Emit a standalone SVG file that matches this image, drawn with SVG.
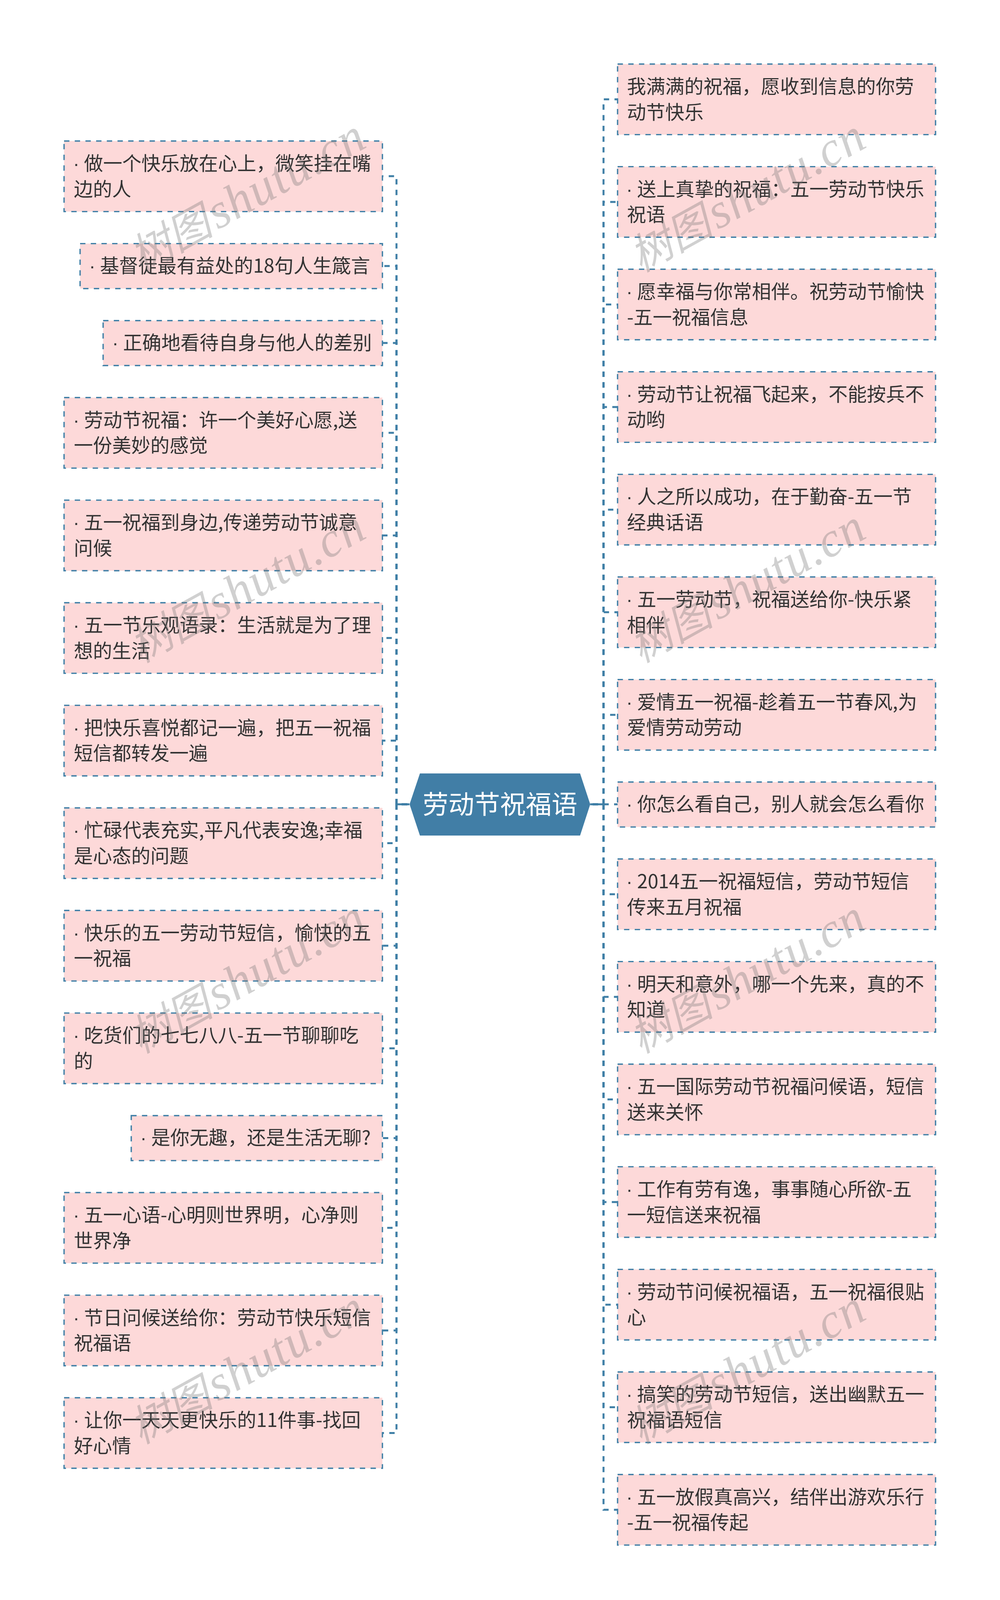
<svg xmlns="http://www.w3.org/2000/svg" width="2560" height="4119" viewBox="0 0 2560 4119">
<style>
.c{fill:none;stroke:#3f7fa6;stroke-width:5;stroke-dasharray:13.68 13.68}
.t{fill:none;stroke:#3f7fa6;stroke-width:5}
.b{fill:#fdd9d9;stroke:#3f7fa6;stroke-width:3.4;stroke-dasharray:13.68 13.68}
.x{font-family:"Noto Sans CJK SC","Liberation Sans",sans-serif;font-size:49px;fill:#333}
.d{font-family:"Liberation Sans",sans-serif}
.m{font-family:"Noto Sans CJK SC","Liberation Sans",sans-serif;font-size:66px;fill:#fff;text-anchor:middle}
.w{font-family:"Liberation Serif","Noto Sans CJK SC",serif;font-style:italic;font-size:126px;letter-spacing:2.5px;word-spacing:-24px;fill:#777;fill-opacity:.345}
.wc{font-size:108px;letter-spacing:0}
</style>
<rect width="2560" height="4119" fill="#fff"/>
<g id="connectors">
<path class="t" d="M1048 2059H1015M1511 2059H1545"/>
<path class="c" d="M1042.4 2059H1015V451H979"/>
<path class="c" d="M1042.4 2059H1015V681H979"/>
<path class="c" d="M1042.4 2059H1015V878H979"/>
<path class="c" d="M1042.4 2059H1015V1108H979"/>
<path class="c" d="M1042.4 2059H1015V1370.7H979"/>
<path class="c" d="M1042.4 2059H1015V1633.3H979"/>
<path class="c" d="M1042.4 2059H1015V1895.9H979"/>
<path class="c" d="M1042.4 2059H1015V2158.5H979"/>
<path class="c" d="M1042.4 2059H1015V2421.1H979"/>
<path class="c" d="M1042.4 2059H1015V2683.7H979"/>
<path class="c" d="M1042.4 2059H1015V2913.5H979"/>
<path class="c" d="M1042.4 2059H1015V3143.3H979"/>
<path class="c" d="M1042.4 2059H1015V3405.9H979"/>
<path class="c" d="M1042.4 2059H1015V3668.5H979"/>
<path class="c" d="M1490 2059H1545V254.3H1581"/>
<path class="c" d="M1490 2059H1545V516.9H1581"/>
<path class="c" d="M1490 2059H1545V779.5H1581"/>
<path class="c" d="M1490 2059H1545V1042.1H1581"/>
<path class="c" d="M1490 2059H1545V1304.7H1581"/>
<path class="c" d="M1490 2059H1545V1567.3H1581"/>
<path class="c" d="M1490 2059H1545V1829.9H1581"/>
<path class="c" d="M1490 2059H1581"/>
<path class="c" d="M1490 2059H1545V2289.3H1581"/>
<path class="c" d="M1490 2059H1545V2551.9H1581"/>
<path class="c" d="M1490 2059H1545V2814.6H1581"/>
<path class="c" d="M1490 2059H1545V3077.2H1581"/>
<path class="c" d="M1490 2059H1545V3339.9H1581"/>
<path class="c" d="M1490 2059H1545V3602.5H1581"/>
<path class="c" d="M1490 2059H1545V3865.1H1581"/>
</g>
<g id="root"><polygon points="1048.5,2059 1075,1980 1485,1980 1511,2059 1485,2139 1075,2139" fill="#417ea6"/><text class="m" x="1280" y="2083">劳动节祝福语</text></g>
<g id="L1"><rect class="b" x="164" y="361" width="815" height="180.6"/><text class="x" y="436"><tspan class="d" x="187">·</tspan><tspan x="215">做一个快乐放在心上，微笑挂在嘴</tspan><tspan x="189" dy="65.6">边的人</tspan></text></g>
<g id="L2"><rect class="b" x="205" y="623.6" width="774" height="115.1"/><text class="x" y="698"><tspan class="d" x="228">·</tspan><tspan x="256">基督徒最有益处的18句人生箴言</tspan></text></g>
<g id="L3"><rect class="b" x="264" y="820.7" width="715" height="115.1"/><text class="x" y="895"><tspan class="d" x="287">·</tspan><tspan x="315">正确地看待自身与他人的差别</tspan></text></g>
<g id="L4"><rect class="b" x="164" y="1017.8" width="815" height="180.6"/><text class="x" y="1092.8"><tspan class="d" x="187">·</tspan><tspan x="215">劳动节祝福：许一个美好心愿,送</tspan><tspan x="189" dy="65.6">一份美妙的感觉</tspan></text></g>
<g id="L5"><rect class="b" x="164" y="1280.4" width="815" height="180.6"/><text class="x" y="1355.4"><tspan class="d" x="187">·</tspan><tspan x="215">五一祝福到身边,传递劳动节诚意</tspan><tspan x="189" dy="65.6">问候</tspan></text></g>
<g id="L6"><rect class="b" x="164" y="1543" width="815" height="180.6"/><text class="x" y="1618"><tspan class="d" x="187">·</tspan><tspan x="215">五一节乐观语录：生活就是为了理</tspan><tspan x="189" dy="65.6">想的生活</tspan></text></g>
<g id="L7"><rect class="b" x="164" y="1805.6" width="815" height="180.6"/><text class="x" y="1880.6"><tspan class="d" x="187">·</tspan><tspan x="215">把快乐喜悦都记一遍，把五一祝福</tspan><tspan x="189" dy="65.6">短信都转发一遍</tspan></text></g>
<g id="L8"><rect class="b" x="164" y="2068.2" width="815" height="180.6"/><text class="x" y="2143.2"><tspan class="d" x="187">·</tspan><tspan x="215">忙碌代表充实,平凡代表安逸;幸福</tspan><tspan x="189" dy="65.6">是心态的问题</tspan></text></g>
<g id="L9"><rect class="b" x="164" y="2330.8" width="815" height="180.6"/><text class="x" y="2405.8"><tspan class="d" x="187">·</tspan><tspan x="215">快乐的五一劳动节短信，愉快的五</tspan><tspan x="189" dy="65.6">一祝福</tspan></text></g>
<g id="L10"><rect class="b" x="164" y="2593.4" width="815" height="180.6"/><text class="x" y="2668.4"><tspan class="d" x="187">·</tspan><tspan x="215">吃货们的七七八八-五一节聊聊吃</tspan><tspan x="189" dy="65.6">的</tspan></text></g>
<g id="L11"><rect class="b" x="336" y="2856" width="643" height="115.1"/><text class="x" y="2930.4"><tspan class="d" x="359">·</tspan><tspan x="387">是你无趣，还是生活无聊?</tspan></text></g>
<g id="L12"><rect class="b" x="164" y="3053" width="815" height="180.6"/><text class="x" y="3128"><tspan class="d" x="187">·</tspan><tspan x="215">五一心语-心明则世界明，心净则</tspan><tspan x="189" dy="65.6">世界净</tspan></text></g>
<g id="L13"><rect class="b" x="164" y="3315.6" width="815" height="180.6"/><text class="x" y="3390.6"><tspan class="d" x="187">·</tspan><tspan x="215">节日问候送给你：劳动节快乐短信</tspan><tspan x="189" dy="65.6">祝福语</tspan></text></g>
<g id="L14"><rect class="b" x="164" y="3578.2" width="815" height="180.6"/><text class="x" y="3653.2"><tspan class="d" x="187">·</tspan><tspan x="215">让你一天天更快乐的11件事-找回</tspan><tspan x="189" dy="65.6">好心情</tspan></text></g>
<g id="R1"><rect class="b" x="1581" y="164" width="814" height="180.6"/><text class="x" y="239"><tspan x="1605">我满满的祝福，愿收到信息的你劳</tspan><tspan x="1605" dy="65.6">动节快乐</tspan></text></g>
<g id="R2"><rect class="b" x="1581" y="426.6" width="814" height="180.6"/><text class="x" y="501.6"><tspan class="d" x="1603">·</tspan><tspan x="1631">送上真挚的祝福：五一劳动节快乐</tspan><tspan x="1605" dy="65.6">祝语</tspan></text></g>
<g id="R3"><rect class="b" x="1581" y="689.2" width="814" height="180.6"/><text class="x" y="764.2"><tspan class="d" x="1603">·</tspan><tspan x="1631">愿幸福与你常相伴。祝劳动节愉快</tspan><tspan x="1605" dy="65.6">-五一祝福信息</tspan></text></g>
<g id="R4"><rect class="b" x="1581" y="951.8" width="814" height="180.6"/><text class="x" y="1026.8"><tspan class="d" x="1603">·</tspan><tspan x="1631">劳动节让祝福飞起来，不能按兵不</tspan><tspan x="1605" dy="65.6">动哟</tspan></text></g>
<g id="R5"><rect class="b" x="1581" y="1214.4" width="814" height="180.6"/><text class="x" y="1289.4"><tspan class="d" x="1603">·</tspan><tspan x="1631">人之所以成功，在于勤奋-五一节</tspan><tspan x="1605" dy="65.6">经典话语</tspan></text></g>
<g id="R6"><rect class="b" x="1581" y="1477" width="814" height="180.6"/><text class="x" y="1552"><tspan class="d" x="1603">·</tspan><tspan x="1631">五一劳动节，祝福送给你-快乐紧</tspan><tspan x="1605" dy="65.6">相伴</tspan></text></g>
<g id="R7"><rect class="b" x="1581" y="1739.6" width="814" height="180.6"/><text class="x" y="1814.6"><tspan class="d" x="1603">·</tspan><tspan x="1631">爱情五一祝福-趁着五一节春风,为</tspan><tspan x="1605" dy="65.6">爱情劳动劳动</tspan></text></g>
<g id="R8"><rect class="b" x="1581" y="2002" width="814" height="115.1"/><text class="x" y="2076"><tspan class="d" x="1603">·</tspan><tspan x="1631">你怎么看自己，别人就会怎么看你</tspan></text></g>
<g id="R9"><rect class="b" x="1581" y="2199" width="814" height="180.6"/><text class="x" y="2274"><tspan class="d" x="1603">·</tspan><tspan x="1631">2014五一祝福短信，劳动节短信</tspan><tspan x="1605" dy="65.6">传来五月祝福</tspan></text></g>
<g id="R10"><rect class="b" x="1581" y="2461.6" width="814" height="180.6"/><text class="x" y="2536.6"><tspan class="d" x="1603">·</tspan><tspan x="1631">明天和意外，哪一个先来，真的不</tspan><tspan x="1605" dy="65.6">知道</tspan></text></g>
<g id="R11"><rect class="b" x="1581" y="2724.3" width="814" height="180.6"/><text class="x" y="2799.3"><tspan class="d" x="1603">·</tspan><tspan x="1631">五一国际劳动节祝福问候语，短信</tspan><tspan x="1605" dy="65.6">送来关怀</tspan></text></g>
<g id="R12"><rect class="b" x="1581" y="2986.9" width="814" height="180.6"/><text class="x" y="3061.9"><tspan class="d" x="1603">·</tspan><tspan x="1631">工作有劳有逸，事事随心所欲-五</tspan><tspan x="1605" dy="65.6">一短信送来祝福</tspan></text></g>
<g id="R13"><rect class="b" x="1581" y="3249.6" width="814" height="180.6"/><text class="x" y="3324.6"><tspan class="d" x="1603">·</tspan><tspan x="1631">劳动节问候祝福语，五一祝福很贴</tspan><tspan x="1605" dy="65.6">心</tspan></text></g>
<g id="R14"><rect class="b" x="1581" y="3512.2" width="814" height="180.6"/><text class="x" y="3587.2"><tspan class="d" x="1603">·</tspan><tspan x="1631">搞笑的劳动节短信，送出幽默五一</tspan><tspan x="1605" dy="65.6">祝福语短信</tspan></text></g>
<g id="R15"><rect class="b" x="1581" y="3774.8" width="814" height="180.6"/><text class="x" y="3849.8"><tspan class="d" x="1603">·</tspan><tspan x="1631">五一放假真高兴，结伴出游欢乐行</tspan><tspan x="1605" dy="65.6">-五一祝福传起</tspan></text></g>
<g id="watermark">
<text class="w" transform="translate(360 698) rotate(-29)"><tspan class="wc">树图</tspan> shutu.cn</text>
<text class="w" transform="translate(1640 698) rotate(-29)"><tspan class="wc">树图</tspan> shutu.cn</text>
<text class="w" transform="translate(360 1698) rotate(-29)"><tspan class="wc">树图</tspan> shutu.cn</text>
<text class="w" transform="translate(1640 1698) rotate(-29)"><tspan class="wc">树图</tspan> shutu.cn</text>
<text class="w" transform="translate(360 2698) rotate(-29)"><tspan class="wc">树图</tspan> shutu.cn</text>
<text class="w" transform="translate(1640 2698) rotate(-29)"><tspan class="wc">树图</tspan> shutu.cn</text>
<text class="w" transform="translate(360 3698) rotate(-29)"><tspan class="wc">树图</tspan> shutu.cn</text>
<text class="w" transform="translate(1640 3698) rotate(-29)"><tspan class="wc">树图</tspan> shutu.cn</text>
</g>
</svg>
